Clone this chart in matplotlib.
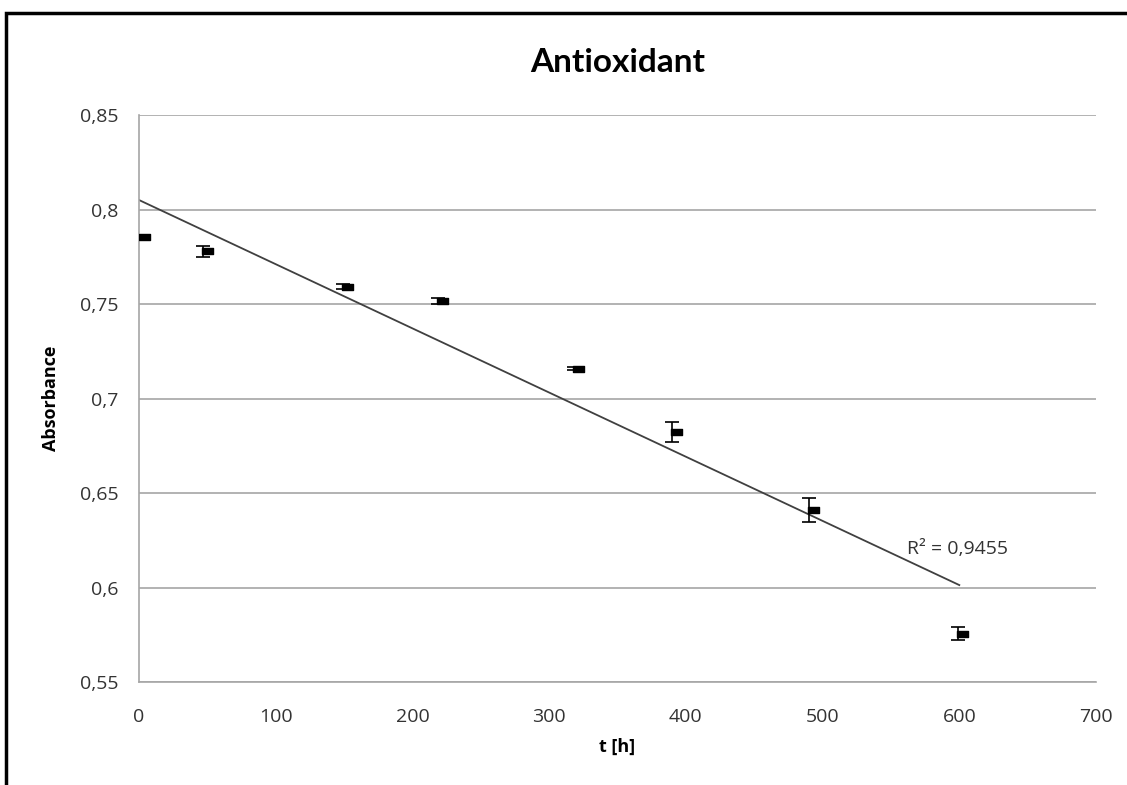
import numpy as np
import matplotlib.pyplot as plt
from matplotlib.path import Path
from matplotlib.patches import Rectangle

plt.rcParams['font.family'] = ['Open Sans', 'DejaVu Sans']

# measurements
t = [1, 47, 149, 219, 318, 390, 490, 599]
absorb = [0.7855, 0.778, 0.7592, 0.7515, 0.7158, 0.6822, 0.641, 0.5756]
err = [0.0012, 0.0029, 0.0012, 0.0015, 0.0008, 0.0054, 0.0066, 0.0036]

yticks = [0.55, 0.6, 0.65, 0.7, 0.75, 0.8, 0.85]
xticks = [0, 100, 200, 300, 400, 500, 600, 700]


def comma(v):
    s = ('%.2f' % v).rstrip('0').rstrip('.')
    return s.replace('.', ',')


# linear trend
k, b = np.polyfit(t, absorb, 1)
pred = k * np.array(t) + b
ss_res = np.sum((np.array(absorb) - pred) ** 2)
ss_tot = np.sum((np.array(absorb) - np.mean(absorb)) ** 2)
r2 = 1 - ss_res / ss_tot

fig = plt.figure(figsize=(11.27, 7.85), dpi=100)
ax = fig.add_axes([0.1233, 0.1312, 0.8492, 0.7223])

# frame of the chart area
fig.patches.append(Rectangle((6 / 1127, -0.1), 1.2, 1.1 - 13 / 785, transform=fig.transFigure,
                             fill=False, edgecolor='black', lw=2.5))

ax.set_xlim(0, 700)
ax.set_ylim(0.55, 0.85)
ax.set_yticks(yticks)
ax.set_xticks(xticks)
ax.set_yticklabels([comma(v) for v in yticks])
ax.set_xticklabels([str(v) for v in xticks])
ax.tick_params(length=0, labelsize=14, colors='#333333')
ax.tick_params(axis='x', pad=19)
ax.tick_params(axis='y', pad=15)

ax.grid(axis='y', color='#a6a6a6', lw=1.2)
ax.set_axisbelow(True)
for s in ['top', 'right']:
    ax.spines[s].set_visible(False)
for s in ['left', 'bottom']:
    ax.spines[s].set_color('#a6a6a6')
    ax.spines[s].set_linewidth(1.2)

xs = np.array([0, 600])
ax.plot(xs, k * xs + b, color='#404040', lw=1.3, zorder=2)

# block marker sitting right of the error bar
mk = Path([(-0.1, -0.35), (1.0, -0.35), (1.0, 0.35), (-0.1, 0.35), (-0.1, -0.35)],
          [Path.MOVETO, Path.LINETO, Path.LINETO, Path.LINETO, Path.CLOSEPOLY])
ax.errorbar(t, absorb, yerr=err, fmt='none', ecolor='black', elinewidth=1.2,
            capsize=5, capthick=1.2, zorder=3)
ax.plot(t, absorb, linestyle='none', marker=mk, markersize=14, color='black', zorder=4)

ax.text(562, 0.6204, 'R² = ' + ('%.4f' % r2).replace('.', ','), fontsize=14,
        color='#333333', va='center', ha='left')

ax.set_title('Antioxidant', fontsize=24, fontweight='bold', pad=31,
             family=['Lato', 'DejaVu Sans'])
ax.set_xlabel('t [h]', fontsize=13, fontweight='bold', labelpad=8)
ax.set_ylabel('Absorbance', fontsize=13, fontweight='bold', labelpad=14)

fig.savefig('out.png', dpi=100)
